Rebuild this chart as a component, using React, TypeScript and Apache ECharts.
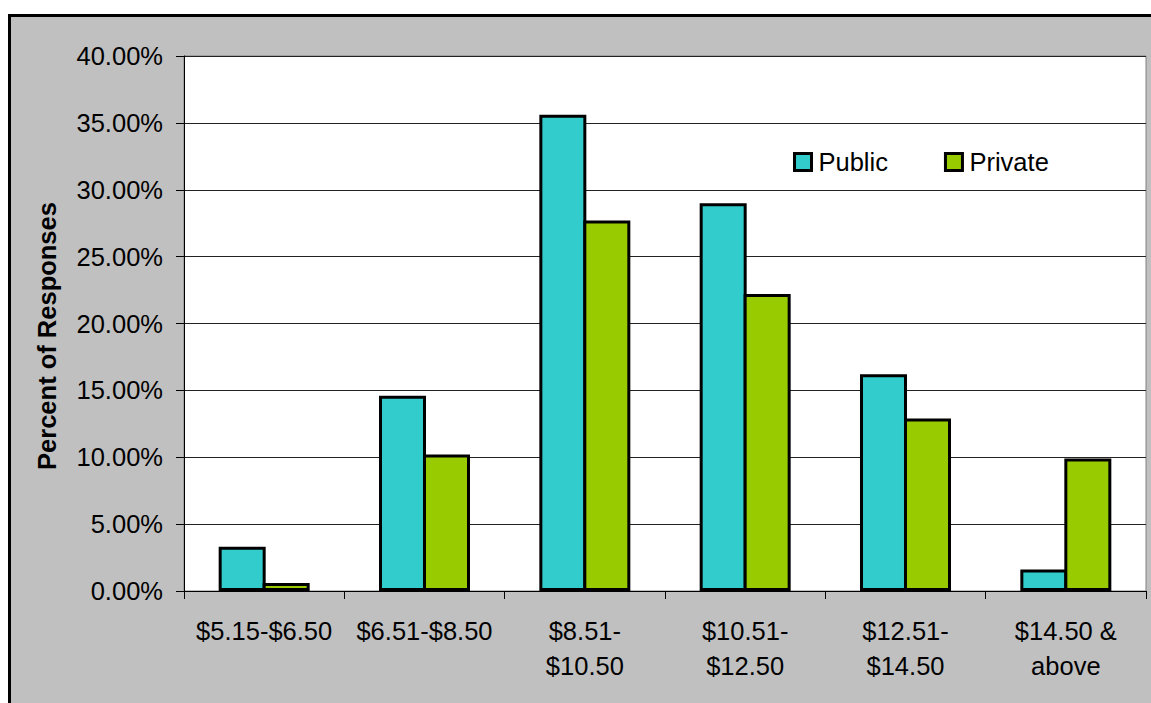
import React, { useEffect, useRef } from "react";
import * as echarts from "echarts";

const categories = [
  "$5.15-$6.50",
  "$6.51-$8.50",
  "$8.51-\n$10.50",
  "$10.51-\n$12.50",
  "$12.51-\n$14.50",
  "$14.50 &\nabove",
];
const publicValues = [3.3, 14.6, 35.6, 29.0, 16.2, 1.6];
const privateValues = [0.6, 10.2, 27.7, 22.2, 12.9, 9.9];
const seriesNames = ["Public", "Private"];
const yAxisTitle = "Percent of Responses";

const FONT = "Liberation Sans, Arial, sans-serif";

export default function App() {
  const ref = useRef<HTMLDivElement>(null);
  useEffect(() => {
    if (!ref.current) return;
    const chart = echarts.init(ref.current, null, { renderer: "svg" });
    chart.setOption({
      animation: false,
      backgroundColor: "transparent",
      textStyle: { fontFamily: FONT },
      grid: {
        left: 184,
        right: 5,
        top: 56,
        bottom: 112,
        show: true,
        backgroundColor: "#ffffff",
        borderColor: "#808080",
        borderWidth: 1,
      },
      legend: {
        left: 788,
        top: 144,
        itemWidth: 17,
        itemHeight: 17,
        itemGap: 56,
        icon: "rect",
        itemStyle: { borderColor: "#000", borderWidth: 3 },
        textStyle: {
          fontFamily: FONT,
          fontSize: 25.5,
          color: "#000",
          padding: [0, 0, 0, 2],
        },
        data: seriesNames,
      },
      xAxis: {
        type: "category",
        data: categories,
        axisLine: { lineStyle: { color: "#000", width: 1 } },
        axisTick: { show: true, length: 8, lineStyle: { color: "#000" } },
        axisLabel: {
          fontFamily: FONT,
          fontSize: 25.5,
          color: "#000",
          lineHeight: 35,
          margin: 22,
          interval: 0,
        },
      },
      yAxis: {
        type: "value",
        min: 0,
        max: 40,
        interval: 5,
        axisLine: { show: true, lineStyle: { color: "#000", width: 1 } },
        axisTick: { show: true, length: 8, lineStyle: { color: "#000" } },
        splitLine: { show: true, lineStyle: { color: "#222", width: 1 } },
        axisLabel: {
          fontFamily: FONT,
          fontSize: 25.5,
          color: "#000",
          margin: 21,
          formatter: (v: number) => v.toFixed(2) + "%",
        },
      },
      graphic: [
        {
          type: "text",
          x: 47,
          y: 336,
          rotation: Math.PI / 2,
          style: {
            text: yAxisTitle,
            fontFamily: FONT,
            fontSize: 25.5,
            fontWeight: "bold",
            fill: "#000",
            align: "center",
            verticalAlign: "middle",
          },
        },
      ],
      series: [
        {
          name: seriesNames[0],
          type: "bar",
          data: publicValues,
          barWidth: 47,
          barGap: "-6.4%",
          itemStyle: { color: "#33CCCC", borderColor: "#000", borderWidth: 3 },
        },
        {
          name: seriesNames[1],
          type: "bar",
          data: privateValues,
          barWidth: 47,
          barGap: "-6.4%",
          itemStyle: { color: "#99CC00", borderColor: "#000", borderWidth: 3 },
        },
      ],
    });
    return () => chart.dispose();
  }, []);

  return (
    <div
      style={{
        position: "fixed",
        left: 0,
        top: 0,
        width: 1151,
        height: 703,
        overflow: "hidden",
        background: "#ffffff",
      }}
    >
      <div
        style={{
          position: "absolute",
          left: 8,
          top: 14,
          width: 1200,
          height: 800,
          border: "3px solid #000",
          background: "#c0c0c0",
        }}
      />
      <div
        ref={ref}
        style={{ position: "absolute", left: 0, top: 0, width: 1151, height: 703 }}
      />
    </div>
  );
}
